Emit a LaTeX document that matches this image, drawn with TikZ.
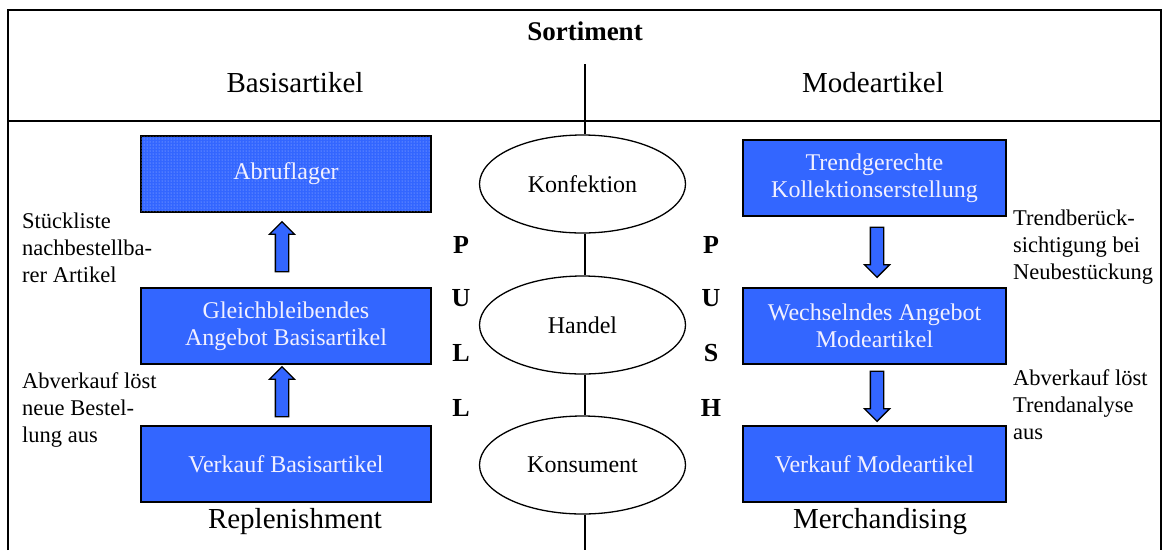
\documentclass[tikz,border=0pt]{standalone}
\usepackage{fontspec}
\setmainfont{Liberation Serif}
\usetikzlibrary{shapes.geometric,shapes.arrows,patterns}
\definecolor{boxblue}{HTML}{3366FF}
\definecolor{boxtext}{HTML}{F2F0FF}
\begin{document}
\begin{tikzpicture}[x=1pt,y=-1pt,
  bluebox/.style={draw=black,line width=1.5pt,fill=boxblue,minimum width=290pt,minimum height=76pt,
    text=boxtext,font=\fontsize{24}{27}\selectfont,align=center,inner sep=0pt},
  ell/.style={draw=black,line width=1.3pt,ellipse,minimum width=206pt,minimum height=98pt,inner sep=0pt,
    font=\fontsize{24}{28}\selectfont},
  blockarrow/.style={single arrow,draw=black,line width=1.3pt,fill=boxblue,inner sep=6pt,
    single arrow head extend=6pt,single arrow head indent=0pt,minimum height=50pt,shape border rotate=0},
  note/.style={font=\fontsize{22.5}{27}\selectfont,align=left,anchor=north west,inner sep=0pt},
  letter/.style={font=\fontsize{26}{28}\selectfont\bfseries,inner sep=0pt},
  head/.style={font=\fontsize{29}{32}\selectfont,inner sep=0pt},
  vline/.style={line width=1.3pt}
]
\useasboundingbox (0,0) rectangle (1169,550);
% frame
\draw[line width=2pt] (8,550) -- (8,10) -- (1161,10) -- (1161,550);
\draw[line width=2pt] (8,121) -- (1161,121);
\node[font=\fontsize{27}{30}\selectfont\bfseries,inner sep=0pt] (sort) at (585,31) {Sortiment};
\node[head] (basis) at (295,83) {Basisartikel};
\node[head] (mode) at (873,83) {Modeartikel};
\coordinate (ctop) at (585,64);
\coordinate (cbot) at (585,550);
% ellipses
\node[ell] (konf) at (582.5,184) {Konfektion};
\node[ell] (handel) at (582.5,325) {Handel};
\node[ell] (kons) at (582.5,465) {Konsument};
\draw[vline] (ctop) -- (ctop |- konf.north);
\draw[vline] (ctop |- konf.south) -- (ctop |- handel.north);
\draw[vline] (ctop |- handel.south) -- (ctop |- kons.north);
\draw[vline] (ctop |- kons.south) -- (cbot);
% left boxes
\node[bluebox,postaction={pattern=dots,pattern color=white!60!boxblue}] (abruf) at (286,174) {Abruflager};
\node[bluebox] (gleich) at (286,326) {Gleichbleibendes\\Angebot Basisartikel};
\node[bluebox] (vbasis) at (286,464) {Verkauf Basisartikel};
% right boxes
\node[bluebox,minimum width=263pt] (trend) at (874.5,178) {Trendgerechte\\Kollektionserstellung};
\node[bluebox,minimum width=263pt] (wechsel) at (874.5,326) {Wechselndes Angebot\\Modeartikel};
\node[bluebox,minimum width=263pt] (vmode) at (874.5,464) {Verkauf Modeartikel};
% block arrows
\node[blockarrow,rotate=90] (a1) at (282,250) {};
\node[blockarrow,rotate=90] (a2) at (282,395) {};
\node[blockarrow,rotate=-90] (a3) at (877,249) {};
\node[blockarrow,rotate=-90] (a4) at (877,393) {};
% PULL / PUSH
\node[letter] (p1) at (461,245) {P};
\node[letter] (u1) at (461,298) {U};
\node[letter] (l1) at (461,353) {L};
\node[letter] (l2) at (461,408) {L};
\node[letter] (p2) at (711,245) {P};
\node[letter] (u2) at (711,298) {U};
\node[letter] (s2) at (711,353) {S};
\node[letter] (h2) at (711,408) {H};
% notes
\node[note] (n1) at (22,213) {Stückliste\\nachbestellba-\\rer Artikel};
\node[note] (n2) at (22,372) {Abverkauf löst\\neue Bestel-\\lung aus};
\node[note] (n3) at (1013,210) {Trendberück-\\sichtigung bei\\Neubestückung};
\node[note] (n4) at (1013,369) {Abverkauf löst\\Trendanalyse\\aus};
% bottom labels
\node[head] (repl) at (295,522) {Replenishment};
\node[head] (merch) at (880,522) {Merchandising};
\end{tikzpicture}
\end{document}
